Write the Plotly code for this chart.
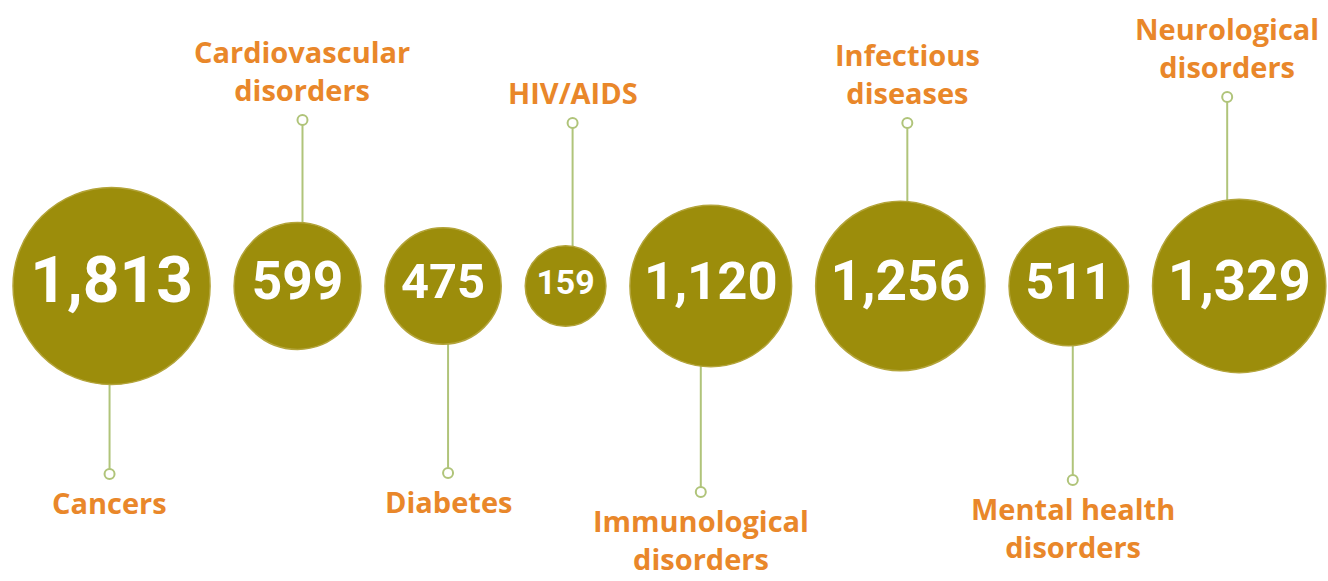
import numpy as np
import plotly.graph_objects as go

# ---- data ----
categories = ["Cancers", "Cardiovascular<br>disorders", "Diabetes", "HIV/AIDS",
              "Immunological<br>disorders", "Infectious<br>diseases",
              "Mental health<br>disorders", "Neurological<br>disorders"]
values = [1813, 599, 475, 159, 1120, 1256, 511, 1329]
value_labels = ["1,813", "599", "475", "159", "1,120", "1,256", "511", "1,329"]

# ---- layout / style ----
W, H = 1328, 581
BUBBLE = "#9c8d0b"
BUBBLE_EDGE = "#b3a43a"
LEADER = "#b0c47a"
LABEL = "#e9872a"
CY = 286            # vertical centre of the bubble row (px from top)
GAP = 24            # gap between neighbouring bubbles
LEFT = 13           # left edge of first bubble
leader_offset = [-2, 5, 5, 7, -10, 7, 4, -12]
leader_end = [474, 120, 473, 123, 492, 123, 480, 97]

vals = np.array(values, dtype=float)
radius = 15.86 + 1.942 * np.sqrt(vals)

cx = []
pos = LEFT
for r in radius:
    cx.append(pos + r)
    pos += 2 * r + GAP
cx = np.array(cx)

font_sizes = [r * (0.84 if len(t) <= 3 else 0.65) for r, t in zip(radius, value_labels)]

fig = go.Figure()

# leader lines
lx, ly = [], []
ends_x, ends_y = [], []
annotations = []
for i, (x, r) in enumerate(zip(cx, radius)):
    down = (i % 2 == 0)
    xl = x + leader_offset[i]
    edge = CY + r if down else CY - r
    lx += [xl, xl, None]
    ly += [edge - (4 if down else -4), leader_end[i], None]
    ends_x.append(xl)
    ends_y.append(leader_end[i])
    annotations.append(dict(
        x=xl, y=leader_end[i] + (7 if down else -9),
        xref="x", yref="y", text=categories[i], showarrow=False,
        yanchor="top" if down else "bottom", xanchor="center",
        font=dict(family="Open Sans", size=29, color=LABEL, weight="bold"),
    ))

fig.add_trace(go.Scatter(x=lx, y=ly, mode="lines",
                         line=dict(color=LEADER, width=2),
                         hoverinfo="skip", showlegend=False))

# bubbles
fig.add_trace(go.Scatter(
    x=cx, y=[CY] * len(values), mode="markers+text",
    marker=dict(size=2 * radius, color=BUBBLE, opacity=1,
                line=dict(color=BUBBLE_EDGE, width=1.5)),
    text=value_labels, textposition="middle center",
    textfont=dict(family="Roboto", size=font_sizes, color="white", weight="bold"),
    customdata=values, hovertemplate="%{customdata}<extra></extra>",
    showlegend=False))

# small end circles
fig.add_trace(go.Scatter(x=ends_x, y=ends_y, mode="markers",
                         marker=dict(size=10, color="white",
                                     line=dict(color=LEADER, width=2)),
                         hoverinfo="skip", showlegend=False))

fig.update_layout(
    width=W, height=H,
    margin=dict(l=0, r=0, t=0, b=0),
    paper_bgcolor="white", plot_bgcolor="white",
    xaxis=dict(range=[0, W], visible=False, fixedrange=True),
    yaxis=dict(range=[H, 0], visible=False, fixedrange=True),
    annotations=annotations,
)

fig.write_html("out.html", config={"displayModeBar": False},
               post_script="document.body.style.margin='0';"
                           "document.body.style.overflow='hidden';")
